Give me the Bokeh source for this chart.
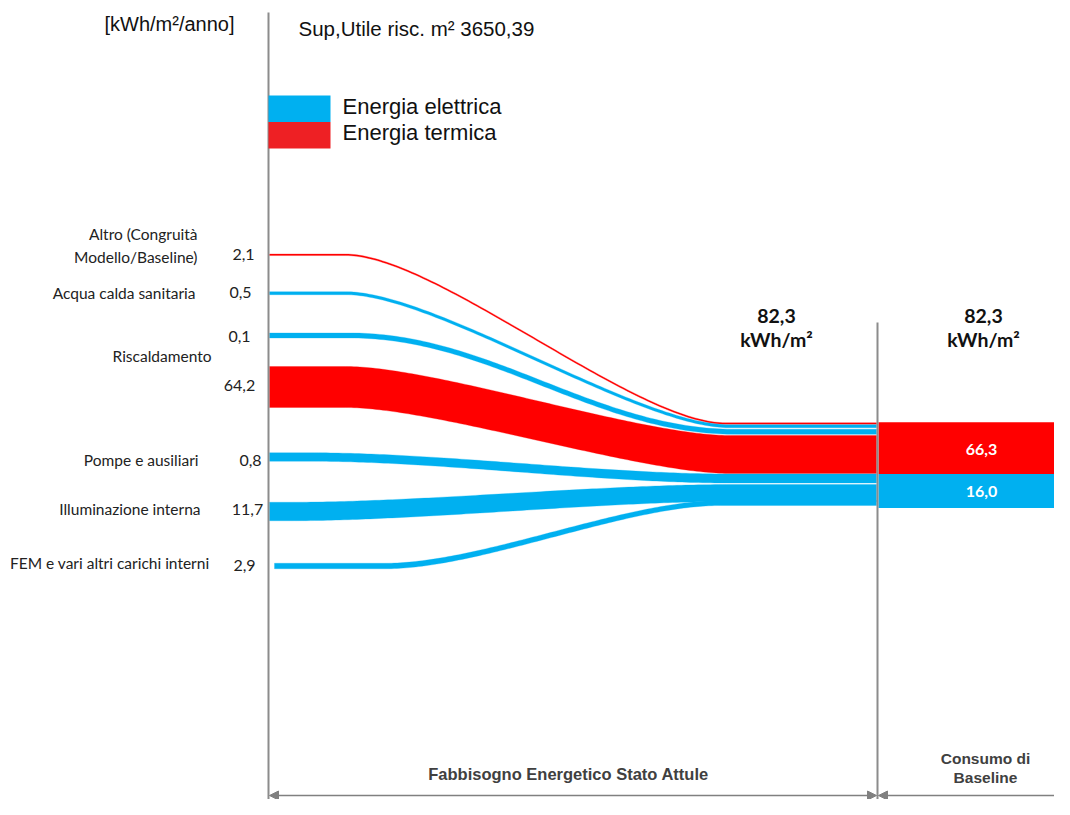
from bokeh.plotting import figure
from bokeh.models import Range1d, ColumnDataSource, Arrow, NormalHead
from bokeh.core.properties import value
from bokeh.embed import file_html
from bokeh.resources import INLINE
import numpy as np

# ---------------- data ----------------
band_categories = ["Altro (Congruità Modello/Baseline)", "Acqua calda sanitaria",
                   "Riscaldamento", "Riscaldamento", "Pompe e ausiliari",
                   "Illuminazione interna", "FEM e vari altri carichi interni"]
band_values = [2.1, 0.5, 0.1, 64.2, 0.8, 11.7, 2.9]
band_energy = ["termica", "elettrica", "elettrica", "termica",
               "elettrica", "elettrica", "elettrica"]
energy_names = ["elettrica", "termica"]
legend_labels = ["Energia elettrica", "Energia termica"]
category_labels = ["Altro (Congruità", "Modello/Baseline)", "Acqua calda sanitaria",
                   "Riscaldamento", "Pompe e ausiliari", "Illuminazione interna",
                   "FEM e vari altri carichi interni"]
unit_label = "[kWh/m²/anno]"
area_label = "Sup,Utile risc. m² 3650,39"
section_labels = ["Fabbisogno Energetico Stato Attule", "Consumo di\nBaseline"]

# ---------------- layout / style (pixels) ----------------
colors = {"elettrica": "#00B0F0", "termica": "#FF0000"}
legend_colors = {"elettrica": "#00B0F0", "termica": "#EE2024"}
y_left = [254.3, 292.7, 335.0, 386.5, 456.5, 511.0, 565.5]
w_left = [1.5, 3.0, 5.0, 41.0, 8.5, 18.5, 5.5]
y_right = [423.0, 425.7, 431.3, 454.0, 478.0, 492.5, 502.5]
w_right = [1.5, 3.0, 5.0, 38.0, 9.0, 17.0, 5.0]
x_left = [269, 269, 269, 269, 269, 269, 274]
x_bend0 = [345, 345, 350, 345, 310, 290, 385]
x_bend1 = [725, 728, 735, 730, 730, 730, 720]
handle = [90, 90, 140, 90, 130, 130, 95]
x_end = 876
val_pos = [(243, 254), (240, 292), (239, 336), (239, 385), (250, 460), (247, 509), (244, 565)]
cat_pos = [(197, 233), (197, 256), (195, 292), (211, 355), (198, 459), (200, 508), (209, 562)]
bar_x = (878, 1075)
bar_y = {"termica": (421.7, 473.4), "elettrica": (473.4, 507.4)}

LBL_FONT = value("Lato")
ARIAL = value("Liberation Sans")

def fmt(v):
    return f"{v:.1f}".replace(".", ",")

p = figure(width=1054, height=799, x_range=Range1d(0, 1054), y_range=Range1d(799, 0),
           output_backend="svg", toolbar_location=None, min_border=0)
p.axis.visible = False
p.grid.visible = False
p.outline_line_color = None
p.background_fill_color = "white"

# ---------------- bands ----------------
def bezier(x0, y0, x1, y1, k, n=100):
    t = np.linspace(0, 1, n)
    P = [(x0, y0), (x0 + k, y0), (x1 - k, y1), (x1, y1)]
    b = [(1 - t) ** 3, 3 * (1 - t) ** 2 * t, 3 * (1 - t) * t ** 2, t ** 3]
    xs = sum(bi * P[i][0] for i, bi in enumerate(b))
    ys = sum(bi * P[i][1] for i, bi in enumerate(b))
    return xs, ys

xs_all, ys_all, cols = [], [], []
for i in range(len(band_values)):
    bx, bt = bezier(x_bend0[i], y_left[i], x_bend1[i], y_right[i], handle[i])
    _, wt = bezier(x_bend0[i], w_left[i], x_bend1[i], w_right[i], handle[i])
    cx = np.concatenate([[x_left[i]], bx, [x_end]])
    cy = np.concatenate([[y_left[i]], bt, [y_right[i]]])
    cw = np.concatenate([[w_left[i]], wt, [w_right[i]]])
    top = cy - cw / 2
    bot = cy + cw / 2
    xs_all.append(list(np.concatenate([cx, cx[::-1]])))
    ys_all.append(list(np.concatenate([top, bot[::-1]])))
    cols.append(colors[band_energy[i]])

p.patches(xs="xs", ys="ys", fill_color="c", line_color="c", line_width=0.3,
          source=ColumnDataSource(dict(xs=xs_all, ys=ys_all, c=cols)))

# ---------------- right bars ----------------
totals = {e: sum(v for v, en in zip(band_values, band_energy) if en == e) for e in energy_names}
grand = sum(band_values)
for e in ["termica", "elettrica"]:
    t0, t1 = bar_y[e]
    p.quad(left=bar_x[0], right=bar_x[1], top=t0, bottom=t1, fill_color=colors[e], line_color=None)
    p.text(x=[981], y=[(t0 + t1) / 2 + 1], text=[fmt(totals[e])],
           text_font=LBL_FONT, text_font_style="bold", text_font_size="16px",
           text_color="white", text_align="center", text_baseline="middle")

# ---------------- axis lines ----------------
p.segment(x0=[268, 877], y0=[12, 322], x1=[268, 877], y1=[820, 820], line_color="#8C8C8C", line_width=2)

# ---------------- legend ----------------
for i, e in enumerate(energy_names):
    y0 = 95 + i * 26.5
    p.quad(left=268, right=330, top=y0, bottom=y0 + 26.5, fill_color=legend_colors[e], line_color=None)
    p.text(x=[342], y=[y0 + 10.5], text=[legend_labels[i]], text_font=ARIAL, text_font_size="22px",
           text_color="#111111", text_align="left", text_baseline="middle")

p.text(x=[234], y=[23], text=[unit_label], text_font=ARIAL, text_font_size="20px",
       text_color="#111111", text_align="right", text_baseline="middle")
p.text(x=[298], y=[28], text=[area_label], text_font=ARIAL, text_font_size="20.5px",
       text_color="#111111", text_align="left", text_baseline="middle")

# ---------------- left labels ----------------
p.text(x=[c[0] for c in cat_pos], y=[c[1] for c in cat_pos], text=category_labels,
       text_font=LBL_FONT, text_font_size="15.5px", text_color="#222222",
       text_align="right", text_baseline="middle")
p.text(x=[v[0] for v in val_pos], y=[v[1] for v in val_pos], text=[fmt(v) for v in band_values],
       text_font=LBL_FONT, text_font_size="16px", text_color="#222222",
       text_align="center", text_baseline="middle")

# ---------------- totals above ----------------
for cx in [776, 983]:
    p.text(x=[cx, cx], y=[315, 339], text=[fmt(grand), "kWh/m²"], text_font=LBL_FONT,
           text_font_style="bold", text_font_size="19.5px", text_color="#111111",
           text_align="center", text_baseline="middle")

# ---------------- bottom sections ----------------
p.text(x=[568], y=[773], text=[section_labels[0]], text_font=ARIAL, text_font_style="bold",
       text_font_size="16.5px", text_color="#404040", text_align="center", text_baseline="middle")
p.text(x=[985, 985], y=[758, 777], text=section_labels[1].split("\n"), text_font=ARIAL,
       text_font_style="bold", text_font_size="15.5px", text_color="#404040",
       text_align="center", text_baseline="middle")

gray = "#808080"
p.add_layout(Arrow(start=NormalHead(size=9, fill_color=gray, line_color=gray),
                   end=NormalHead(size=9, fill_color=gray, line_color=gray),
                   x_start=269, y_start=795, x_end=876, y_end=795, line_color=gray, line_width=1.5))
p.add_layout(Arrow(start=NormalHead(size=9, fill_color=gray, line_color=gray), end=None,
                   x_start=878, y_start=795, x_end=1070, y_end=795, line_color=gray, line_width=1.5))

open("out.html", "w").write(file_html(p, INLINE))
